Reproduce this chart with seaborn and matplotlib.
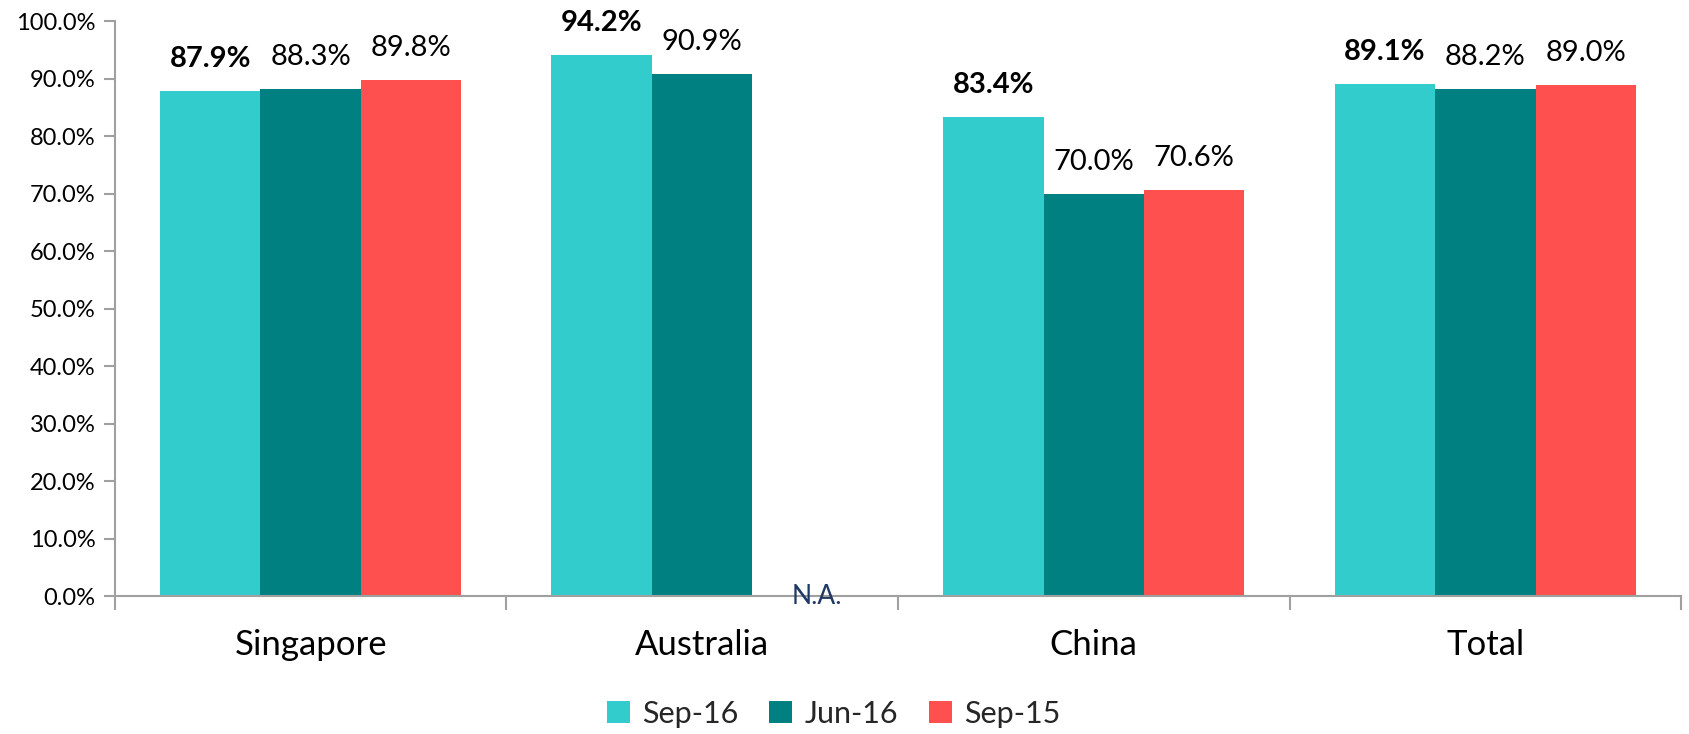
import numpy as np
import pandas as pd
import matplotlib
matplotlib.use("Agg")
import matplotlib.pyplot as plt
import seaborn as sns

categories = ["Singapore", "Australia", "China", "Total"]
series = ["Sep-16", "Jun-16", "Sep-15"]
sep16 = [87.9, 94.2, 83.4, 89.1]
jun16 = [88.3, 90.9, 70.0, 88.2]
sep15 = [89.8, np.nan, 70.6, 89.0]
yticks = [0, 10, 20, 30, 40, 50, 60, 70, 80, 90, 100]
colors = ["#33CCCC", "#008080", "#FF5050"]

sns.set_theme(style="white")
plt.rcParams['font.family'] = ['Lato', 'DejaVu Sans']

rows = []
for s, vals in zip(series, [sep16, jun16, sep15]):
    for c, v in zip(categories, vals):
        rows.append({"Category": c, "Period": s, "Value": v})
df = pd.DataFrame(rows)

fig = plt.figure(figsize=(16.9, 7.34), dpi=100)
ax = fig.add_axes([0.068, 0.188, 0.9267, 0.783])
sns.barplot(data=df, x="Category", y="Value", hue="Period", hue_order=series,
            order=categories, palette=colors, width=0.77, saturation=1,
            edgecolor="none", linewidth=0, ax=ax, legend=True)

ax.set_ylim(0, 100)
ax.set_xlim(-0.5, len(categories) - 0.5)
ax.set_yticks(yticks)
ax.set_yticklabels([f"{v:.1f}%" for v in yticks], fontsize=17, color="#000000")
ax.set_xticks(range(len(categories)))
ax.set_xticklabels(categories, fontsize=25, color="#000000")
ax.set_xticks(np.arange(-0.5, len(categories)), minor=True)
ax.tick_params(axis="x", which="major", length=0, pad=24)
ax.tick_params(axis="x", which="minor", length=10, color="#A0A0A0", width=1.5, direction="out", bottom=True)
ax.tick_params(axis="y", length=8, color="#A0A0A0", width=1.5, direction="out", left=True, pad=6)
ax.set_xlabel("")
ax.set_ylabel("")
for sp in ["top", "right"]:
    ax.spines[sp].set_visible(False)
for sp in ["left", "bottom"]:
    ax.spines[sp].set_color("#A0A0A0")
    ax.spines[sp].set_linewidth(1.5)

# hue offsets from drawn bars
offsets = []
for cont in ax.containers:
    b = [bb for bb in cont if not np.isnan(bb.get_height())][0]
    cx = b.get_x() + b.get_width() / 2
    offsets.append(cx - round(cx))

for i, (cont, vals) in enumerate(zip(ax.containers, [sep16, jun16, sep15])):
    for j, v in enumerate(vals):
        x = j + offsets[i]
        if np.isnan(v):
            ax.text(x + 0.035, 0, "N.A.", ha="center", va="center", fontsize=19,
                    color="#1F3864", clip_on=False)
            continue
        ax.text(x, v + 3.3, f"{v:.1f}%", ha="center", va="bottom", fontsize=21,
                fontweight="bold" if i == 0 else "normal", color="#000000")

leg = ax.legend(loc="center", bbox_to_anchor=(0.459, -0.205), ncol=3,
                frameon=False, fontsize=22, handlelength=0.75, handleheight=0.75,
                handletextpad=0.4, columnspacing=1.0)

fig.savefig("out.png", dpi=100)
